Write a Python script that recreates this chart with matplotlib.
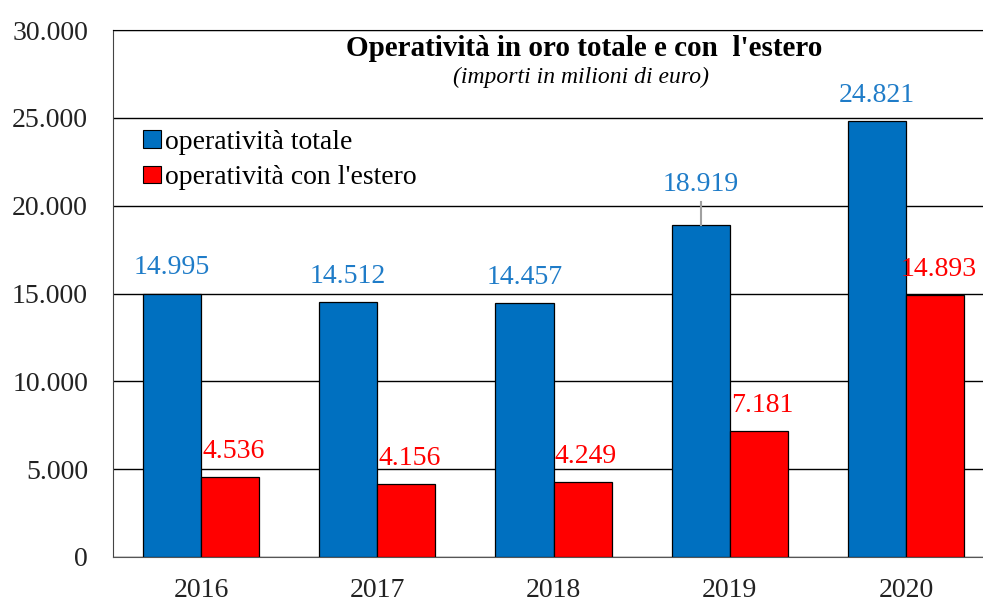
import matplotlib.pyplot as plt
import numpy as np
from matplotlib.patches import Patch

plt.rcParams["font.family"] = ["Liberation Serif", "DejaVu Serif"]

anni = ["2016", "2017", "2018", "2019", "2020"]
totale = [14995, 14512, 14457, 18919, 24821]
estero = [4536, 4156, 4249, 7181, 14893]
lab_totale = ["14.995", "14.512", "14.457", "18.919", "24.821"]
lab_estero = ["4.536", "4.156", "4.249", "7.181", "14.893"]

blu = "#0070C0"
rosso = "#FF0000"

fig = plt.figure(figsize=(9.83, 6.01), dpi=100)
# axes runs past the right edge of the figure, like the original
ax = fig.add_axes([113 / 983, 1 - 557 / 601, 881 / 983, 527 / 601])

x = np.arange(len(anni))
w = 0.33
ax.bar(x - w / 2, totale, w, color=blu, edgecolor="black", linewidth=0.9, zorder=3)
ax.bar(x + w / 2, estero, w, color=rosso, edgecolor="black", linewidth=0.9, zorder=3)

ax.set_xlim(-0.5, 4.5)
ax.set_ylim(0, 30000)
ax.set_yticks(range(0, 30001, 5000))
ax.set_yticklabels(["0", "5.000", "10.000", "15.000", "20.000", "25.000", "30.000"])
ax.set_xticks(x)
ax.set_xticklabels(anni)
ax.tick_params(axis="both", length=0, labelsize=20, colors="#222222")
ax.tick_params(axis="y", pad=18)
ax.tick_params(axis="x", pad=15)
ax.grid(axis="y", color="black", linewidth=1.0, zorder=0)
ax.spines["right"].set_visible(False)
ax.spines["left"].set_color("#444444")
ax.spines["bottom"].set_color("#555555")
ax.spines["top"].set_color("black")

# value labels
for i in range(len(anni)):
    dy = 18.5
    if anni[i] == "2019":
        dy = 29
        ax.plot([x[i] - w / 2, x[i] - w / 2], [totale[i], totale[i] + 1300],
                color="#A0A0A0", lw=1.5, zorder=4)
    ax.annotate(lab_totale[i], (x[i] - w / 2, totale[i]), xytext=(0, dy),
                textcoords="offset points", ha="center", va="center",
                fontsize=20, color="#1F7CC8", zorder=5)
    ax.annotate(lab_estero[i], (x[i] + w / 2, estero[i]), xytext=(2.5, 18.5),
                textcoords="offset points", ha="center", va="center",
                fontsize=20, color=rosso, zorder=5)

fig.text(584 / 983, 1 - 48 / 601, "Operatività in oro totale e con  l'estero",
         ha="center", va="center", fontsize=21, fontweight="bold")
fig.text(581 / 983, 1 - 77 / 601, "(importi in milioni di euro)",
         ha="center", va="center", fontsize=17, style="italic")

handles = [Patch(facecolor=blu, edgecolor="black", linewidth=0.8),
           Patch(facecolor=rosso, edgecolor="black", linewidth=0.8)]
ax.legend(handles, ["operatività totale", "operatività con l'estero"],
          loc="center left", bbox_to_anchor=(143 / 983, 1 - 160 / 601),
          bbox_transform=fig.transFigure, frameon=False,
          fontsize=20, handlelength=0.65, handleheight=0.6, handletextpad=0.15,
          labelspacing=0.38, borderpad=0, borderaxespad=0)

fig.savefig("out.png", dpi=100)
